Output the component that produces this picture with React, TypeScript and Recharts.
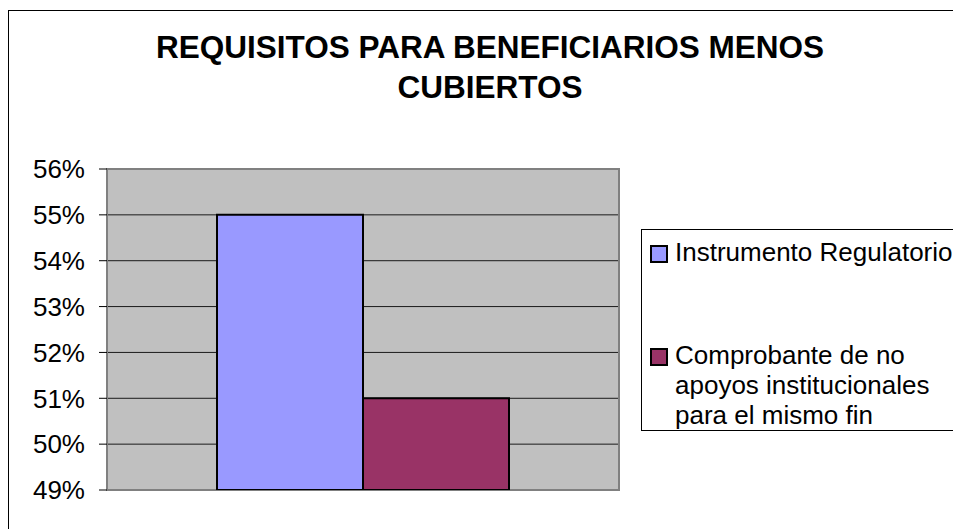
import { BarChart, Bar, YAxis, XAxis, CartesianGrid, Legend, ReferenceArea } from 'recharts';

const categories = ['Requisitos'];
const seriesNames = ['Instrumento Regulatorio', 'Comprobante de no apoyos institucionales para el mismo fin'];
const instrumentoValues = [0.55];
const comprobanteValues = [0.51];
const yTicks = [0.49, 0.5, 0.51, 0.52, 0.53, 0.54, 0.55, 0.56];
const colors = ['#9999FF', '#993366'];

// serie1 = Instrumento Regulatorio, serie2 = Comprobante...
const data = categories.map((name, i) => ({
  name,
  serie1: instrumentoValues[i],
  serie2: comprobanteValues[i],
}));

const font = '"Liberation Sans", Arial, sans-serif';

// Legend drawn as an Excel-style box, in series order
function LegendBox({ payload }: any) {
  const items = seriesNames
    .map((n) => (payload || []).find((p: any) => p.value === n))
    .filter(Boolean);
  return (
    <div
      style={{
        border: '1px solid #000',
        background: '#fff',
        width: 340,
        height: 202,
        boxSizing: 'border-box',
        fontFamily: font,
        fontSize: 26,
        lineHeight: '30px',
        color: '#000',
        position: 'relative',
      }}
    >
      {items.map((entry: any, i: number) => (
        <div
          key={entry.value}
          style={{
            position: 'absolute',
            left: 8,
            top: i === 0 ? 7 : 110,
            display: 'flex',
            alignItems: 'flex-start',
          }}
        >
          <span
            style={{
              display: 'inline-block',
              width: 14,
              height: 14,
              marginTop: 8,
              background: entry.color,
              border: '2px solid #000',
              marginRight: 7,
              flexShrink: 0,
            }}
          />
          <span style={{ width: 290 }}>{entry.value}</span>
        </div>
      ))}
    </div>
  );
}

export default function App() {
  return (
    <div style={{ position: 'fixed', left: 0, top: 0, width: 953, height: 529, overflow: 'hidden', background: '#fff' }}>
      <div
        style={{
          position: 'absolute',
          left: 8,
          top: 10,
          width: 1000,
          height: 1000,
          border: '1.5px solid #000',
        }}
      />
      <div
        style={{
          position: 'absolute',
          left: 120,
          top: 27,
          width: 740,
          textAlign: 'center',
          fontFamily: font,
          fontWeight: 'bold',
          fontSize: 31.5,
          lineHeight: '40px',
          color: '#000',
        }}
      >
        REQUISITOS PARA BENEFICIARIOS MENOS CUBIERTOS
      </div>
      <div style={{ position: 'absolute', left: 0, top: 0 }}>
        <BarChart
          width={953}
          height={529}
          data={data}
          margin={{ top: 169, right: 334, left: 8, bottom: 39 }}
          barCategoryGap={110}
          barGap={0}
        >
          <CartesianGrid vertical={false} fill="#C0C0C0" stroke="#1a1a1a" strokeWidth={1} />
          <XAxis dataKey="name" hide />
          <YAxis
            width={99}
            domain={[0.49, 0.56]}
            ticks={yTicks}
            allowDataOverflow
            tickFormatter={(v: number) => `${Math.round(v * 100)}%`}
            axisLine={false}
            tickLine={{ stroke: '#000' }}
            tickSize={8}
            tickMargin={14}
            tick={{ fill: '#000', fontSize: 26, fontFamily: font }}
          />
          <ReferenceArea y1={0.49} y2={0.56} fill="none" stroke="#808080" strokeWidth={2} ifOverflow="visible" />
          <Legend
            layout="horizontal"
            verticalAlign="middle"
            align="center"
            content={<LegendBox />}
            wrapperStyle={{ position: 'absolute', left: 641, top: 229, width: 340 }}
          />
          <Bar dataKey="serie1" name={seriesNames[0]} fill={colors[0]} stroke="#000" strokeWidth={2} isAnimationActive={false} />
          <Bar dataKey="serie2" name={seriesNames[1]} fill={colors[1]} stroke="#000" strokeWidth={2} isAnimationActive={false} />
        </BarChart>
      </div>
    </div>
  );
}
